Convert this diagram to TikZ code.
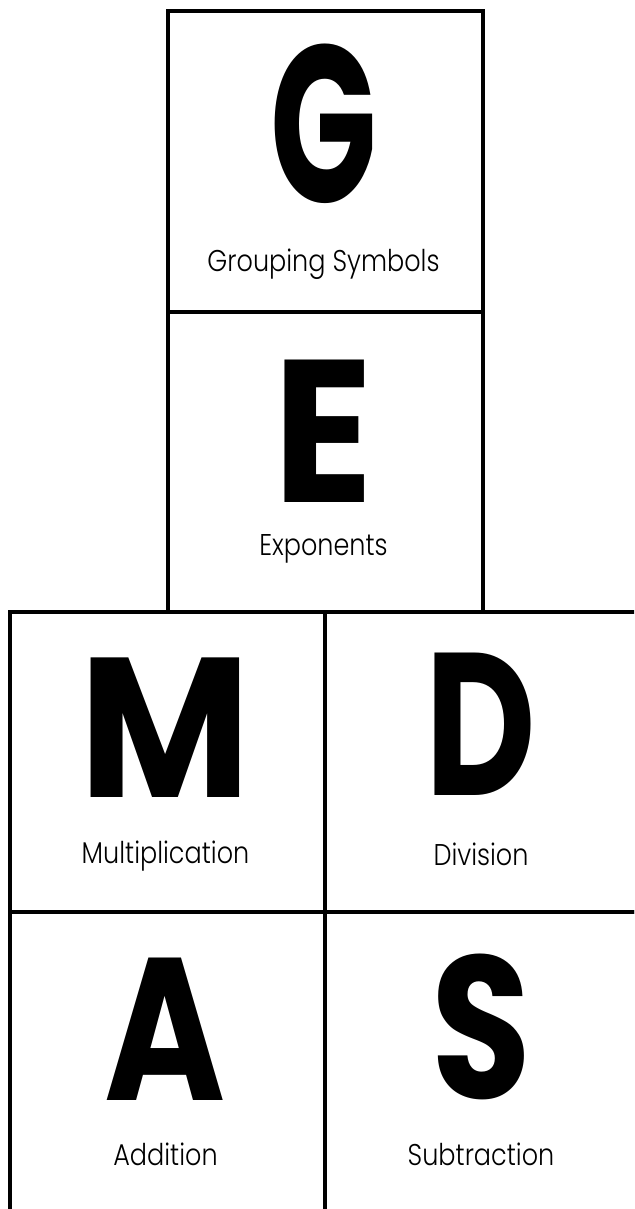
\documentclass[tikz,border=0pt]{standalone}
\usepackage{fontspec}
\usepackage{graphicx}
\newfontfamily\bigfont{Poppins}[UprightFont={* Bold}]
\newfontfamily\labfont{Poppins}[UprightFont={* Light},FakeStretch=0.85]
\begin{document}
\begin{tikzpicture}[x=1pt,y=-1pt,
  cell/.style={draw=black,line width=4pt,minimum width=315pt,minimum height=300.5pt,inner sep=0pt,anchor=north west},
  letter/.style={anchor=base,inner sep=0pt,font=\bigfont\fontsize{203}{203}\selectfont},
  lab/.style={anchor=base,inner sep=0pt,font=\labfont\fontsize{30}{30}\selectfont}]
\useasboundingbox (0,0) rectangle (634,1209);
\fill[white] (0,0) rectangle (634,1209);
\clip (0,0) rectangle (634,1209);
\node[cell,minimum height=300.5pt] (cg) at (166,9.5) {};
\node[cell,minimum height=299.5pt] (ce) at (166,310) {};
\node[cell] (cm) at (8,609.5) {};
\node[cell] (cd) at (323,609.5) {};
\node[cell,minimum height=306pt] (ca) at (8,910) {};
\node[cell,minimum height=306pt] (cs) at (323,910) {};
\node[letter] (lg) at (323.5,202) {\scalebox{0.69}[1.1]{G}};
\node[letter] (le) at (323.5,502) {\scalebox{0.91}[1]{E}};
\node[letter] (lm) at (165.5,797) {\scalebox{0.92}[0.98]{M}};
\node[letter] (ld) at (481,795) {\scalebox{0.75}[1]{D}};
\node[letter] (la) at (165.5,1100) {\scalebox{0.81}[1]{A}};
\node[letter] (ls) at (481,1098) {\scalebox{0.8}[1]{S}};
\node[lab] (tg) at (323.5,271) {Grouping Symbols};
\node[lab] (te) at (323.5,555) {Exponents};
\node[lab] (tm) at (165.5,863) {Multiplication};
\node[lab] (td) at (481,865) {Division};
\node[lab] (ta) at (165.5,1165) {Addition};
\node[lab] (ts) at (481,1165) {Subtraction};
\end{tikzpicture}
\end{document}
